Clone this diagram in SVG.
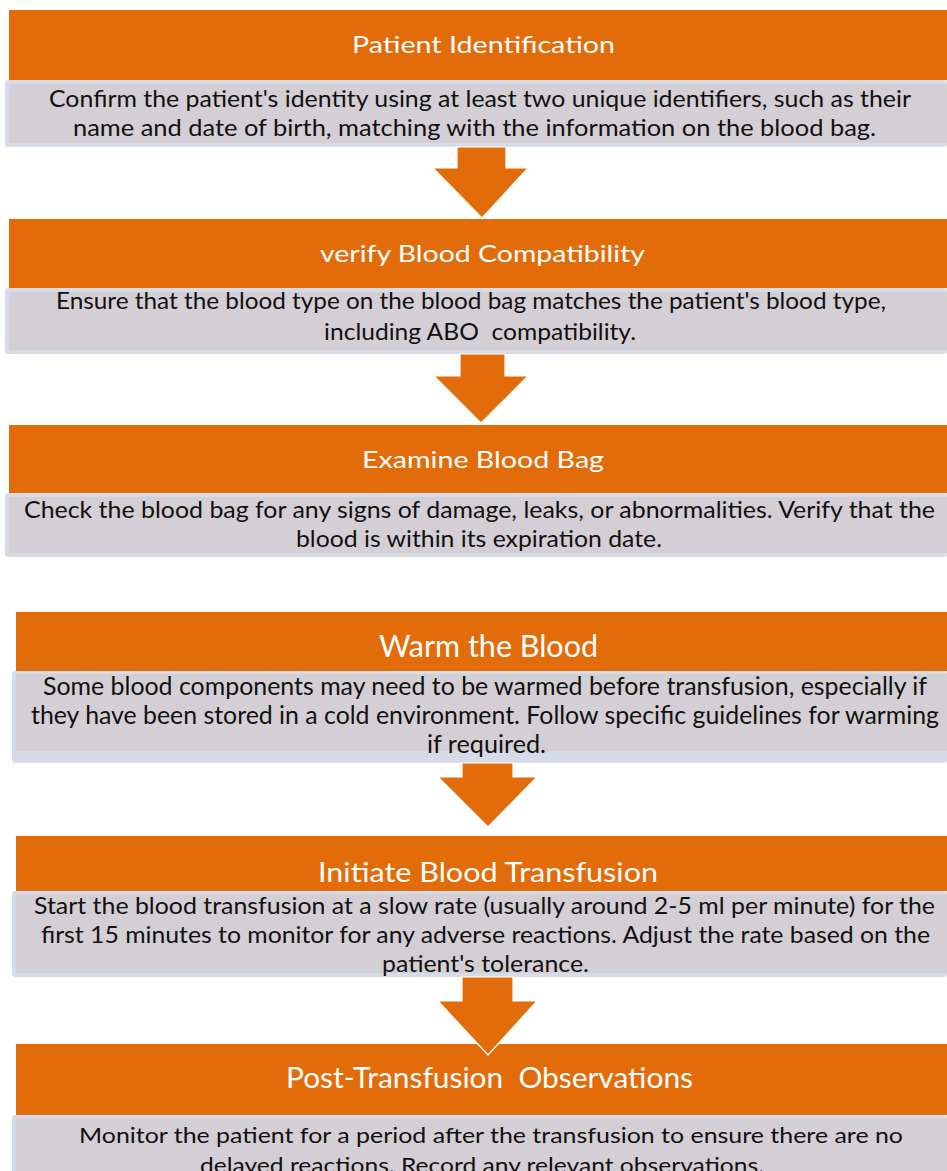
<svg xmlns="http://www.w3.org/2000/svg" width="947" height="1171" viewBox="0 0 947 1171">
<style>
.hd{fill:#E36C0A}
.bo{fill:#D5DCE8}
.bi{fill:#D4CFD4}
.t{font-family:Lato,"Open Sans","Liberation Sans",sans-serif;fill:#fff;white-space:pre}
.b{font-family:Lato,"Open Sans","Liberation Sans",sans-serif;fill:#111;white-space:pre}
.ar{fill:#E36C0A;stroke:#fff;stroke-width:1.2}
</style>
<rect width="947" height="1171" fill="#fff"/>
<g id="node-patient-identification">
<rect class="hd" x="9" y="10" width="938" height="70"/>
<rect class="bo" x="5" y="80" width="942" height="67" rx="3"/>
<rect class="bi" x="9" y="84" width="938" height="59"/>
<text class="t" x="352" y="53" font-size="24" textLength="263" lengthAdjust="spacingAndGlyphs">Patient Identification</text>
<text class="b" x="49" y="107" font-size="23" textLength="862" lengthAdjust="spacingAndGlyphs">Confirm the patient's identity using at least two unique identifiers, such as their</text>
<text class="b" x="73" y="136" font-size="23" textLength="803" lengthAdjust="spacingAndGlyphs">name and date of birth, matching with the information on the blood bag.</text>
</g>
<g id="node-verify-compatibility">
<rect class="hd" x="9" y="219" width="938" height="69"/>
<rect class="bo" x="5" y="288" width="942" height="66" rx="3"/>
<rect class="bi" x="9" y="292" width="938" height="58"/>
<text class="t" x="320" y="262" font-size="24" textLength="325" lengthAdjust="spacingAndGlyphs">verify Blood Compatibility</text>
<text class="b" x="56" y="309" font-size="23" textLength="830" lengthAdjust="spacingAndGlyphs">Ensure that the blood type on the blood bag matches the patient's blood type,</text>
<text class="b" x="324" y="340" font-size="23" textLength="312" lengthAdjust="spacingAndGlyphs">including ABO  compatibility.</text>
</g>
<g id="node-examine-blood-bag">
<rect class="hd" x="9" y="425" width="938" height="68"/>
<rect class="bo" x="5" y="493" width="942" height="64" rx="3"/>
<rect class="bi" x="9" y="497" width="938" height="56"/>
<text class="t" x="362" y="468" font-size="24" textLength="242" lengthAdjust="spacingAndGlyphs">Examine Blood Bag</text>
<text class="b" x="24" y="518" font-size="23" textLength="911" lengthAdjust="spacingAndGlyphs">Check the blood bag for any signs of damage, leaks, or abnormalities. Verify that the</text>
<text class="b" x="296" y="547" font-size="23" textLength="366" lengthAdjust="spacingAndGlyphs">blood is within its expiration date.</text>
</g>
<g id="node-warm-the-blood">
<rect class="hd" x="16" y="612" width="931" height="59"/>
<rect class="bo" x="12" y="671" width="935" height="92" rx="3"/>
<rect class="bi" x="16" y="674" width="931" height="77"/>
<text class="t" x="379" y="657" font-size="30" textLength="219" lengthAdjust="spacingAndGlyphs">Warm the Blood</text>
<text class="b" x="43" y="695" font-size="25" textLength="884" lengthAdjust="spacingAndGlyphs">Some blood components may need to be warmed before transfusion, especially if</text>
<text class="b" x="31" y="724" font-size="25" textLength="908" lengthAdjust="spacingAndGlyphs">they have been stored in a cold environment. Follow specific guidelines for warming</text>
<text class="b" x="427" y="753" font-size="25" textLength="119" lengthAdjust="spacingAndGlyphs">if required.</text>
</g>
<g id="node-initiate-transfusion">
<rect class="hd" x="16" y="836" width="931" height="55"/>
<rect class="bo" x="12" y="891" width="935" height="86" rx="3"/>
<rect class="bi" x="16" y="894" width="931" height="79"/>
<text class="t" x="318" y="882" font-size="27" textLength="340" lengthAdjust="spacingAndGlyphs">Initiate Blood Transfusion</text>
<text class="b" x="34" y="914" font-size="23" textLength="901" lengthAdjust="spacingAndGlyphs">Start the blood transfusion at a slow rate (usually around 2-5 ml per minute) for the</text>
<text class="b" x="41" y="943" font-size="23" textLength="889" lengthAdjust="spacingAndGlyphs">first 15 minutes to monitor for any adverse reactions. Adjust the rate based on the</text>
<text class="b" x="382" y="972" font-size="23" textLength="207" lengthAdjust="spacingAndGlyphs">patient's tolerance.</text>
</g>
<g id="node-post-transfusion">
<rect class="hd" x="16" y="1044" width="931" height="71"/>
<rect class="bo" x="12" y="1115" width="935" height="60" rx="3"/>
<rect class="bi" x="16" y="1118" width="931" height="57"/>
<text class="t" x="286" y="1088" font-size="28" textLength="407" lengthAdjust="spacingAndGlyphs">Post-Transfusion  Observations</text>
<text class="b" x="79" y="1143" font-size="22" textLength="824" lengthAdjust="spacingAndGlyphs">Monitor the patient for a period after the transfusion to ensure there are no</text>
<text class="b" x="200" y="1173" font-size="22" textLength="564" lengthAdjust="spacingAndGlyphs">delayed reactions. Record any relevant observations.</text>
</g>
<g id="connectors">
<polygon class="ar" points="457,147 506,147 506,168 528,168 482,218 433,168 457,168"/>
<polygon class="ar" points="460,354 505,354 505,376 528,376 481,423 434,376 460,376"/>
<polygon class="ar" points="462,763 513,763 513,777 537,777 488,827 438,777 462,777"/>
<polygon class="ar" points="462,977 513,977 513,1001 537,1001 488,1055 438,1001 462,1001"/>
</g>
</svg>
